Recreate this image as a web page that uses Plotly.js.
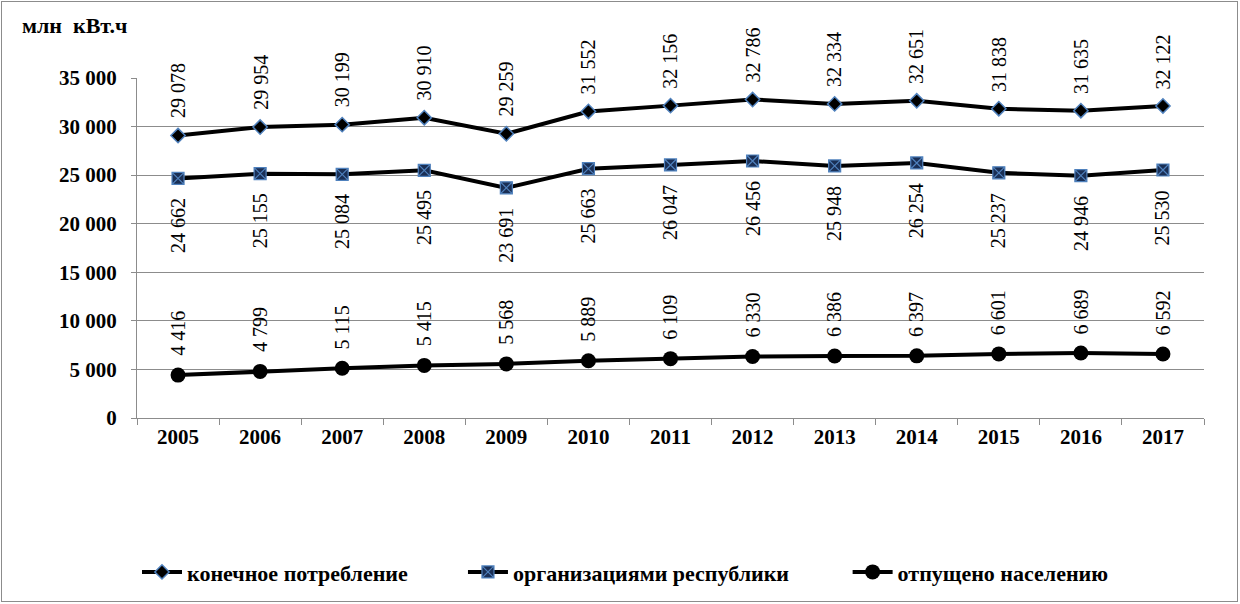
<!DOCTYPE html>
<html><head><meta charset="utf-8">
<script src="https://cdn.plot.ly/plotly-3.0.1.min.js"></script>
<style>
html,body{margin:0;padding:0;background:#fff;}
#wrap{position:relative;width:1240px;height:604px;}
#chart{width:1240px;height:604px;}
#frame{position:absolute;left:1px;top:1px;width:1235px;height:599px;border:1px solid #8c8c8c;pointer-events:none;}
</style></head>
<body><div id="wrap"><div id="chart"></div><div id="frame"></div></div>
<script>
const years = ['2005','2006','2007','2008','2009','2010','2011','2012','2013','2014','2015','2016','2017'];
const finalConsumption = [29078,29954,30199,30910,29259,31552,32156,32786,32334,32651,31838,31635,32122];
const organizations = [24662,25155,25084,25495,23691,25663,26047,26456,25948,26254,25237,24946,25530];
const population = [4416,4799,5115,5415,5568,5889,6109,6330,6386,6397,6601,6689,6592];
const seriesNames = ['конечное потребление','организациями республики','отпущено населению'];
const yTickVals = [0,5000,10000,15000,20000,25000,30000,35000];
const yTickText = ['0','5 000','10 000','15 000','20 000','25 000','30 000','35 000'];
const unitLabel = 'млн  кВт.ч';

const SERIF = '"Liberation Serif", "Times New Roman", serif';
function fmt(v){ return String(v).replace(/\B(?=(\d{3})+(?!\d))/g,' '); }

const traces = [
  {x: years, y: finalConsumption, name: seriesNames[0], type:'scatter', mode:'lines+markers',
   line:{color:'#000', width:4}, marker:{symbol:'diamond', size:11, color:'#000', line:{color:'#4f81bd', width:1.5}}, legend:'legend'},
  {x: years, y: organizations, name: seriesNames[1], type:'scatter', mode:'lines+markers',
   line:{color:'#000', width:4}, marker:{symbol:'square-x', size:12, color:'#1a2f55', line:{color:'#4f81bd', width:1.2}}, legend:'legend2'},
  {x: years, y: population, name: seriesNames[2], type:'scatter', mode:'lines+markers',
   line:{color:'#000', width:4}, marker:{symbol:'circle', size:15, color:'#000'}, legend:'legend3'}
];

const annotations = [];
function addLabels(vals, shift){
  vals.forEach((v,i)=>{
    annotations.push({x: i, y: v, xref:'x', yref:'y', text: fmt(v), showarrow:false,
      textangle:-90, xanchor:'center', yanchor: shift>0?'bottom':'top', yshift: shift,
      font:{family:SERIF, size:20, color:'#000'}});
  });
}
addLabels(finalConsumption, 15);
addLabels(organizations, -18);
addLabels(population, 17);
annotations.push({xref:'paper', yref:'paper', x:-0.110, y:1.155, xanchor:'left', yanchor:'middle',
  text:'<b>'+unitLabel+'</b>', showarrow:false, font:{family:SERIF, size:22, color:'#000'}});

const legFont = {family:SERIF, size:22, color:'#000', weight:'bold'};
const legBase = {orientation:'h', yanchor:'middle', xanchor:'left', y:-0.449, font:legFont, bgcolor:'rgba(0,0,0,0)', itemwidth:40};

const layout = {
  width:1240, height:604,
  margin:{l:137, r:36, t:78, b:185},
  paper_bgcolor:'#fff', plot_bgcolor:'#fff',
  font:{family:SERIF},
  showlegend:true,
  legend: Object.assign({}, legBase, {x:0.0}),
  legend2: Object.assign({}, legBase, {x:0.3055}),
  legend3: Object.assign({}, legBase, {x:0.666}),
  xaxis:{type:'category', range:[-0.5,12.5], autorange:false, showgrid:false, showline:true, linecolor:'#8c8c8c', linewidth:1,
    ticks:'outside', tickson:'boundaries', ticklen:6, tickcolor:'#8c8c8c', tickangle:0,
    tickfont:{family:SERIF, size:21, color:'#000', weight:'bold'}, fixedrange:true},
  yaxis:{range:[0,35000], autorange:false, tickvals:yTickVals, ticktext:yTickText, showgrid:true, gridcolor:'#8c8c8c', gridwidth:1,
    showline:true, linecolor:'#8c8c8c', zeroline:false, ticks:'outside', ticklen:5, tickcolor:'#8c8c8c',
    ticklabelstandoff:10,
    tickfont:{family:SERIF, size:21, color:'#000', weight:'bold'}, fixedrange:true},
  annotations: annotations
};
Plotly.newPlot('chart', traces, layout, {staticPlot:true});
</script></body></html>
